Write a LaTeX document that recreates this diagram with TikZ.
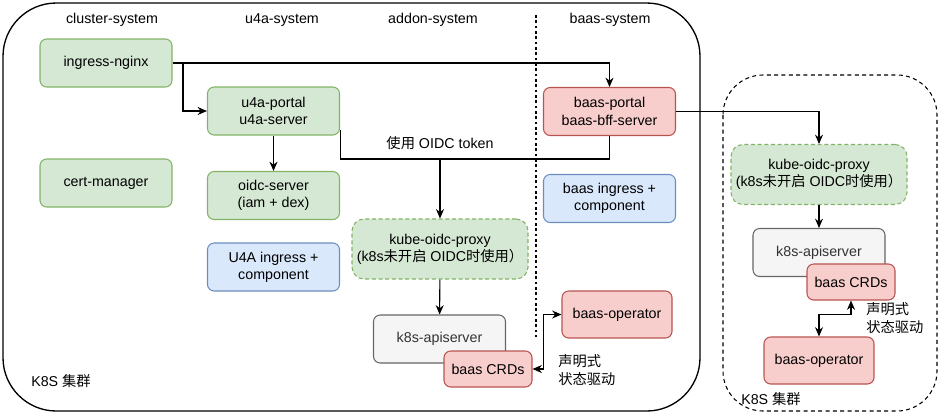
\documentclass[tikz,border=0pt]{standalone}
\usepackage{fontspec}
\setmainfont{Liberation Sans}
\newfontfamily\cjk{Noto Sans CJK SC}
\usetikzlibrary{arrows.meta}

\definecolor{gfill}{HTML}{D5E8D4}
\definecolor{gline}{HTML}{82B366}
\definecolor{rfill}{HTML}{F8CECC}
\definecolor{rline}{HTML}{B85450}
\definecolor{bfill}{HTML}{DAE8FC}
\definecolor{bline}{HTML}{6C8EBF}
\definecolor{kfill}{HTML}{F5F5F5}
\definecolor{kline}{HTML}{666666}

\tikzset{
  txt/.style={font=\fontsize{10.7}{13}\selectfont},
  lbl/.style={txt, inner sep=0pt, align=left},
  box/.style={txt, draw, rounded corners=5pt, align=center, line width=0.8pt,
    minimum width=99pt, minimum height=36pt, inner sep=1pt},
  gbox/.style={fill=gfill, draw=gline},
  rbox/.style={fill=rfill, draw=rline},
  bbox/.style={fill=bfill, draw=bline},
  kbox/.style={fill=kfill, draw=kline, text=black!80},
  proxybox/.style={dash pattern=on 3pt off 2pt, minimum width=132pt, minimum height=45pt, rounded corners=9pt},
  crdbox/.style={minimum width=66pt, minimum height=27pt},
  operbox/.style={minimum width=82.5pt, minimum height=35.25pt},
  line/.style={line width=0.8pt},
  arr/.style={line, -{Stealth[length=7pt,width=6pt]}},
  dbl/.style={line, {Stealth[length=7pt,width=6pt]}-{Stealth[length=7pt,width=6pt]}}
}

\begin{document}
\begin{tikzpicture}[x=0.75pt,y=-0.75pt]
            \useasboundingbox (0,0) rectangle (941,415);

            %clusters
            \draw[line width=1pt, rounded corners=40pt] (3,3) rectangle (700,411);

            \draw[line, dash pattern=on 3pt off 2.5pt, rounded corners=30pt] (723,75) rectangle (937,411);

            \draw[line, dash pattern=on 2pt off 2pt] (536,15) -- (536,337);

            \node[lbl, anchor=west] (k8s) at (31,381) {K8S {\cjk 集群}};

            \node[lbl, anchor=west] (rk8s) at (741,399) {K8S {\cjk 集群}};

            %headers
            \node[lbl] (hcluster) at (112,20) {cluster-system};

            \node[lbl] (hu4a) at (282,20) {u4a-system};

            \node[lbl] (haddon) at (433,20) {addon-system};

            \node[lbl] (hbaas) at (610,20) {baas-system};

            %nodes
            \node[box, gbox] (nginx) at (106,63) {ingress-nginx};

            \node[box, gbox] (u4aportal) at (273.5,111) {u4a-portal\\u4a-server};

            \node[box, gbox] (certmgr) at (106,183) {cert-manager};

            \node[box, gbox] (oidc) at (273.5,195.5) {oidc-server\\(iam + dex)};

            \node[box, bbox] (u4aingress) at (273.5,267) {U4A ingress +\\component};

            \node[box, rbox] (bportal) at (609.5,111.5) {baas-portal\\baas-bff-server};

            \node[box, bbox] (bingress) at (609.5,198.5) {baas ingress +\\component};

            \node[box, gbox, proxybox] (proxy) at (440,249) {kube-oidc-proxy\\(k8s{\cjk 未开启} OIDC{\cjk 时使用）}};

            \node[box, kbox] (api) at (439.5,339) {k8s-apiserver};

            \node[box, rbox, crdbox] (crd) at (488,369) {baas CRDs};

            \node[box, rbox, operbox] (oper) at (617,314.5) {baas-operator};

            \node[lbl, anchor=west] (decl) at (558,370) {{\cjk 声明式}\\{\cjk 状态驱动}};

            %second cluster
            \node[box, gbox, proxybox] (rproxy) at (819,174.5) {kube-oidc-proxy\\(k8s{\cjk 未开启} OIDC{\cjk 时使用）}};

            \node[box, kbox] (rapi) at (819,252.5) {k8s-apiserver};

            \node[box, rbox, crdbox] (rcrd) at (851,282) {baas CRDs};

            \node[box, rbox, operbox] (roper) at (819,360.5) {baas-operator};

            \node[lbl, anchor=west] (rdecl) at (866,318) {{\cjk 声明式}\\{\cjk 状态驱动}};

            %edges
            \coordinate (split) at (183,63);

            \draw[arr] (nginx.east) -| (bportal.north);

            \draw[arr] (split) |- (u4aportal.west);

            \draw[arr] (u4aportal) -- (oidc);

            \coordinate (token) at (440,159);

            \draw[line] ([yshift=4pt]u4aportal.south east) |- (token);

            \draw[line] (bportal.south) |- (token);

            \draw[arr] (token) -- (proxy.north);

            \node[lbl] (toklbl) at (440,143) {{\cjk 使用} OIDC token};

            \draw[arr] (bportal.east) -| (rproxy.north);

            \draw[arr] (proxy) -- (api);

            \draw[dbl] (crd.east) -- ++(11,0) |- (oper.west);

            \draw[arr] (rproxy) -- (rapi);

            \draw[dbl] (rcrd.south) -- ++(0,14) -| (roper.north);
        \end{tikzpicture}
\end{document}
